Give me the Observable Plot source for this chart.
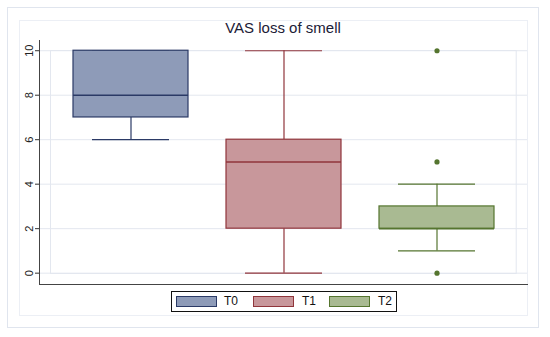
<!DOCTYPE html>
<html>
<head>
<meta charset="utf-8">
<script src="https://cdn.jsdelivr.net/npm/d3@7"></script>
<script src="https://cdn.jsdelivr.net/npm/@observablehq/plot@0.6"></script>
<style>
  body { margin: 0; background: #fff; font-family: "Liberation Sans", Arial, sans-serif; }
  #wrap { position: relative; width: 550px; height: 337px; overflow: hidden; }
  #wrap svg { position: absolute; left: 0; top: 0; }
  .frame { position: absolute; box-sizing: border-box; }
  #title { position: absolute; left: 39px; width: 488px; top: 19px; text-align: center; font-size: 15px; color: #1b2036; }
  #legend { position: absolute; left: 171px; top: 291px; width: 226px; height: 21px; box-sizing: border-box; border: 1px solid #111; background: #fff; }
  .sw { position: absolute; top: 4px; width: 41px; height: 11px; box-sizing: border-box; border: 1px solid; }
  .lab { position: absolute; top: 2px; font-size: 12px; color: #111; line-height: 14px; }
</style>
</head>
<body>
<div id="wrap">
  <div class="frame" style="left:7px;top:7px;width:532px;height:321px;border:1px solid #e0e5ee;"></div>
  <div class="frame" style="left:19px;top:20px;width:509px;height:296px;border:1px solid #eceff5;"></div>
  <div id="chart"></div>
  <div id="title">VAS loss of smell</div>
  <div id="legend"></div>
</div>
<script>
const groups = ["T0", "T1", "T2"];
const mins = [6, 0, 1];
const q1s = [7, 2, 2];
const medians = [8, 5, 2];
const q3s = [10, 6, 3];
const maxs = [10, 10, 4];
const outlierGroups = ["T2", "T2", "T2"];
const outlierValues = [0, 5, 10];
const fills = ["#8e9bb8", "#c8979b", "#a9ba92"];
const strokes = ["#2b3a66", "#90353b", "#55752f"];
const yTicks = [0, 2, 4, 6, 8, 10];

const boxes = groups.map((g, i) => ({
  group: g, min: mins[i], q1: q1s[i], median: medians[i], q3: q3s[i], max: maxs[i]
}));
const outliers = outlierGroups.map((g, i) => ({group: g, value: outlierValues[i]}));
const color = {domain: groups, range: strokes};
const fillOf = g => fills[groups.indexOf(g)];
const strokeOf = g => strokes[groups.indexOf(g)];

const chart = Plot.plot({
  width: 550,
  height: 337,
  marginLeft: 39,
  marginRight: 23,
  marginTop: 40,
  marginBottom: 53,
  style: {background: "transparent", fontFamily: "Liberation Sans, Arial, sans-serif", fontSize: "11px", color: "#222"},
  x: {domain: groups, range: [54, 513], paddingInner: 0.25, paddingOuter: 0.125, axis: null},
  y: {domain: [-0.51, 10.46], ticks: yTicks},
  marks: [
    Plot.gridY(yTicks, {stroke: "#e3e7ef", strokeOpacity: 1}),
    Plot.frame({stroke: "#e3e7ef", insetLeft: 11, insetRight: 11.3, insetTop: 10, insetBottom: 11}),
    Plot.axisY(yTicks, {tickSize: 4, tickPadding: 3, tickRotate: -90, label: null, stroke: "#333", fill: "#222"}),
    Plot.frame({anchor: "left", stroke: "#444"}),
    Plot.frame({anchor: "bottom", stroke: "#444"}),
    // whiskers
    Plot.ruleX(boxes, {x: "group", y1: "min", y2: "q1", stroke: d => strokeOf(d.group), strokeWidth: 1.2}),
    Plot.ruleX(boxes, {x: "group", y1: "q3", y2: "max", stroke: d => strokeOf(d.group), strokeWidth: 1.2}),
    Plot.tickY(boxes, {x: "group", y: "min", stroke: d => strokeOf(d.group), strokeWidth: 1.2, insetLeft: 19, insetRight: 19}),
    Plot.tickY(boxes, {x: "group", y: "max", stroke: d => strokeOf(d.group), strokeWidth: 1.2, insetLeft: 19, insetRight: 19}),
    // boxes
    Plot.barY(boxes, {x: "group", y1: "q1", y2: "q3", fill: d => fillOf(d.group), stroke: d => strokeOf(d.group), strokeWidth: 1.2}),
    Plot.tickY(boxes, {x: "group", y: "median", stroke: d => strokeOf(d.group), strokeWidth: 1.5}),
    // outliers
    Plot.dot(outliers, {x: "group", y: "value", r: 2.6, fill: d => strokeOf(d.group), stroke: "none"})
  ]
});
document.getElementById("chart").appendChild(chart);

// legend
const legend = document.getElementById("legend");
const swX = [4, 81, 157];
const labX = [52, 130, 206];
groups.forEach((g, i) => {
  const sw = document.createElement("div");
  sw.className = "sw";
  sw.style.left = swX[i] + "px";
  sw.style.background = fills[i];
  sw.style.borderColor = strokes[i];
  legend.appendChild(sw);
  const lab = document.createElement("div");
  lab.className = "lab";
  lab.style.left = labX[i] + "px";
  lab.textContent = g;
  legend.appendChild(lab);
});
</script>
</body>
</html>
